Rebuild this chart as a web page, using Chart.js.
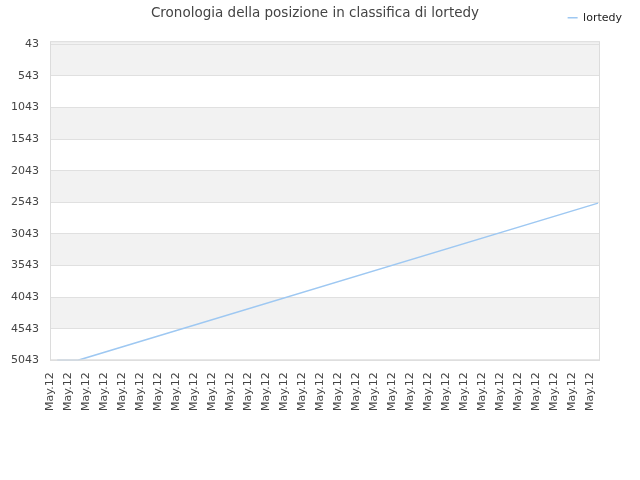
<!DOCTYPE html>
<html>
<head>
<meta charset="utf-8">
<script src="https://cdn.jsdelivr.net/npm/chart.js@4/dist/chart.umd.min.js"></script>
<style>
  html, body { margin: 0; padding: 0; background: #fff; }
  #wrap { width: 640px; height: 480px; }
</style>
</head>
<body>
<div id="wrap"><canvas id="chart"></canvas></div>
<script>
// --- Data ---
const tickLabel = "May.12";
const tickCount = 31;
const rankX = [0.4, 1.55, 30.45];
const rankY = [5043, 5043, 2556];
const yTicks = [43, 543, 1043, 1543, 2043, 2543, 3043, 3543, 4043, 4543, 5043];

const points = rankX.map((x, i) => ({ x: x, y: rankY[i] }));

// --- Alternating bands + frame around the plot ---
const bandPlugin = {
  id: "bands",
  beforeInit(chart) {
    // extra room under the legend row
    const fit = chart.legend.fit;
    chart.legend.fit = function () {
      fit.call(this);
      this.height += 8;
    };
  },
  beforeDraw(chart) {
    const { ctx, chartArea: a, scales: { y } } = chart;
    ctx.save();
    ctx.fillStyle = "#f2f2f2";
    ctx.fillRect(a.left, a.top, a.width, y.getPixelForValue(yTicks[0]) - a.top);
    for (let i = 0; i < yTicks.length - 1; i += 2) {
      const y1 = y.getPixelForValue(yTicks[i]);
      const y2 = y.getPixelForValue(yTicks[i + 1]);
      ctx.fillRect(a.left, y1, a.width, y2 - y1);
    }
    ctx.restore();
  },
  afterDatasetsDraw(chart) {
    const { ctx, chartArea: a } = chart;
    ctx.save();
    ctx.strokeStyle = "#dcdcdc";
    ctx.lineWidth = 1;
    ctx.strokeRect(a.left + 0.5, a.top + 0.5, a.width - 1, a.height - 1);
    ctx.restore();
  }
};

new Chart(document.getElementById("chart"), {
  type: "line",
  data: {
    datasets: [{
      label: "lortedy",
      data: points,
      borderColor: "#9ec8f2",
      backgroundColor: "#9ec8f2",
      borderWidth: 1.5,
      pointRadius: 0,
      tension: 0
    }]
  },
  options: {
    responsive: true,
    maintainAspectRatio: false,
    animation: false,
    layout: { padding: { left: 0, right: 10, top: 0, bottom: 65 } },
    plugins: {
      title: {
        display: true,
        text: "Cronologia della posizione in classifica di lortedy",
        color: "#444",
        font: { family: "DejaVu Sans", size: 13.5, weight: "normal" },
        padding: { top: 5, bottom: -17 }
      },
      legend: {
        position: "top",
        align: "end",
        labels: {
          usePointStyle: true,
          pointStyle: "line",
          pointStyleWidth: 10,
          color: "#222",
          font: { family: "DejaVu Sans", size: 11 },
          padding: 8
        }
      },
      tooltip: { enabled: false }
    },
    scales: {
      x: {
        type: "linear",
        min: 0,
        max: 30.56,
        grid: { display: false },
        border: { display: false },
        afterBuildTicks(axis) {
          axis.ticks = Array.from({ length: tickCount }, (_, i) => ({ value: i }));
        },
        ticks: {
          callback: () => tickLabel,
          minRotation: 90,
          maxRotation: 90,
          autoSkip: false,
          color: "#444",
          font: { family: "DejaVu Sans", size: 11 },
          padding: 4
        }
      },
      y: {
        reverse: true,
        min: -5,
        max: 5043,
        grid: { color: "#e0e0e0", drawTicks: false },
        border: { display: false },
        afterBuildTicks(axis) {
          axis.ticks = yTicks.map(v => ({ value: v }));
        },
        afterFit(axis) { axis.width = 50; },
        ticks: {
          callback: v => String(v),
          color: "#444",
          font: { family: "DejaVu Sans", size: 11 },
          padding: 11
        }
      },
      right: {
        position: "right",
        display: true,
        grid: { display: false },
        border: { display: false },
        ticks: { display: false },
        afterFit(axis) { axis.width = 30; }
      }
    }
  },
  plugins: [bandPlugin]
});
</script>
</body>
</html>
